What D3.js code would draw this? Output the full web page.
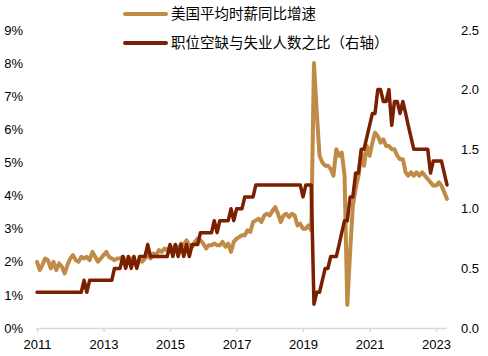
<!DOCTYPE html>
<html>
<head>
<meta charset="utf-8">
<script src="https://cdn.jsdelivr.net/npm/d3@7"></script>
<style>
  html, body { margin: 0; padding: 0; background: #ffffff; }
  svg { display: block; }
  text { font-family: "Liberation Sans", Arial, "Noto Sans CJK SC", sans-serif; fill: #000; }
</style>
</head>
<body>
<svg id="chart" width="488" height="356"></svg>
<script>
// ---- data (monthly, first month = Jan 2011 on the displayed axis) ----
const startMonth = "2011-01";
const wageGrowth = [
  2.0, 1.75, 1.9, 2.1, 2.05, 1.8, 2.0, 1.75, 1.95, 1.85,
  1.65, 1.9, 2.1, 2.2, 2.05, 2.0, 2.15, 2.1, 2.15, 2.05,
  2.3, 2.15, 2.0, 2.1, 2.2, 2.3, 2.15, 2.1, 2.05, 2.1,
  2.1, 2.15, 2.05, 2.0, 2.1, 1.95, 1.9, 2.05, 2.0, 2.1,
  2.2, 2.1, 2.25, 2.2, 2.35, 2.3, 2.4, 2.35, 2.45, 2.4,
  2.5, 2.35, 2.55, 2.5, 2.65, 2.5, 2.45, 2.6, 2.7, 2.65,
  2.55, 2.4, 2.5, 2.5, 2.55, 2.5, 2.5, 2.6, 2.45, 2.55,
  2.3, 2.6, 2.7, 2.75, 2.8, 2.8, 2.95, 2.9, 3.2, 3.25,
  3.3, 3.2, 3.4, 3.45, 3.4, 3.55, 3.65, 3.45, 3.2, 3.4,
  3.45, 3.35, 3.45, 3.4, 3.1, 3.15, 3.0, 3.0, 3.1, 2.95,
  8.0, 6.5, 5.2, 5.0, 4.9, 4.9, 4.8, 4.6, 5.4, 5.2,
  5.3, 4.6, 0.7, 2.3, 3.7, 4.2, 4.6, 5.3, 4.9, 5.5,
  5.2, 5.6, 5.9, 5.8, 5.6, 5.7, 5.5, 5.5, 5.4, 5.4,
  5.2, 5.1, 5.1, 4.7, 4.6, 4.7, 4.6, 4.7, 4.6, 4.7,
  4.6, 4.5, 4.4, 4.3, 4.3, 4.4, 4.3, 4.1, 3.9
];
const vacancyRatio = [
  0.3, 0.3, 0.3, 0.3, 0.3, 0.3, 0.3, 0.3, 0.3, 0.3,
  0.3, 0.3, 0.3, 0.3, 0.3, 0.3, 0.3, 0.4, 0.3, 0.4,
  0.4, 0.4, 0.4, 0.4, 0.4, 0.4, 0.4, 0.4, 0.5, 0.5,
  0.5, 0.6, 0.5, 0.6, 0.5, 0.6, 0.5, 0.6, 0.6, 0.6,
  0.7, 0.6, 0.6, 0.6, 0.6, 0.6, 0.6, 0.6, 0.7, 0.6,
  0.7, 0.6, 0.7, 0.6, 0.7, 0.6, 0.7, 0.7, 0.7, 0.8,
  0.8, 0.8, 0.8, 0.8, 0.9, 0.8, 0.9, 0.9, 0.9, 0.9,
  1.0, 0.9, 1.0, 1.0, 1.0, 1.1, 1.1, 1.1, 1.1, 1.2,
  1.2, 1.2, 1.2, 1.2, 1.2, 1.2, 1.2, 1.2, 1.2, 1.2,
  1.2, 1.2, 1.2, 1.2, 1.2, 1.2, 1.1, 1.2, 1.2, 1.2,
  0.2, 0.3, 0.3, 0.4, 0.5, 0.5, 0.6, 0.6, 0.6, 0.7,
  0.8, 0.9, 0.9, 1.1, 1.1, 1.3, 1.3, 1.5, 1.5, 1.6,
  1.7, 1.8, 1.8, 2.0, 2.0, 1.9, 1.9, 2.0, 1.7, 1.9,
  1.9, 1.8, 1.9, 1.8, 1.7, 1.6, 1.5, 1.5, 1.5, 1.5,
  1.5, 1.5, 1.3, 1.4, 1.4, 1.4, 1.4, 1.3, 1.2
];
const xTickYears = [2011, 2013, 2015, 2017, 2019, 2021, 2023];
const leftTicks = [0, 1, 2, 3, 4, 5, 6, 7, 8, 9];
const rightTicks = [0, 0.5, 1.0, 1.5, 2.0, 2.5];
const seriesNames = ["美国平均时薪同比增速", "职位空缺与失业人数之比（右轴）"];
const colors = ["#BF8B47", "#7A1F00"];

// ---- scales ----
const parseMonth = d3.timeParse("%Y-%m");
const t0 = parseMonth(startMonth);
const dates = wageGrowth.map((_, i) => d3.timeMonth.offset(t0, i));
const x = d3.scaleTime()
  .domain([t0, d3.timeMonth.offset(t0, wageGrowth.length - 1)])
  .range([37, 447]);
const yL = d3.scaleLinear().domain([0, 9]).range([328, 30]);
const yR = d3.scaleLinear().domain([0, 2.5]).range([328, 30]);

const svg = d3.select("#chart");

// ---- x axis ----
const xAxis = d3.axisBottom(x)
  .tickValues(xTickYears.map(y => new Date(y, 0, 1)))
  .tickFormat(d3.timeFormat("%Y"))
  .tickSize(4)
  .tickSizeOuter(0);
const gx = svg.append("g").attr("transform", "translate(0,328)").call(xAxis);
gx.select(".domain").attr("stroke", "#d9d9d9").attr("stroke-width", 1.5)
  .attr("d", "M36,0.5H447");
gx.selectAll(".tick line").attr("stroke", "#d9d9d9").attr("stroke-width", 1.5);
gx.selectAll(".tick text").attr("font-size", 13).attr("dy", "1.05em")
  .attr("font-family", "Liberation Sans, Arial, sans-serif").attr("fill", "#000");

// ---- left axis ----
const gl = svg.append("g").attr("transform", "translate(23,0)")
  .call(d3.axisLeft(yL).tickValues(leftTicks).tickFormat(d => d + "%").tickSize(0).tickPadding(0));
gl.select(".domain").remove();
gl.selectAll(".tick text").attr("font-size", 13)
  .attr("font-family", "Liberation Sans, Arial, sans-serif").attr("fill", "#000");

// ---- right axis ----
const gr = svg.append("g").attr("transform", "translate(461,0)")
  .call(d3.axisRight(yR).tickValues(rightTicks).tickFormat(d3.format(".1f")).tickSize(0).tickPadding(0));
gr.select(".domain").remove();
gr.selectAll(".tick text").attr("font-size", 13)
  .attr("font-family", "Liberation Sans, Arial, sans-serif").attr("fill", "#000");

// ---- lines ----
const lineL = d3.line().x((d, i) => x(dates[i])).y(d => yL(d));
const lineR = d3.line().x((d, i) => x(dates[i])).y(d => yR(d));

svg.append("path").datum(wageGrowth)
  .attr("d", lineL).attr("fill", "none")
  .attr("stroke", colors[0]).attr("stroke-width", 4)
  .attr("stroke-linejoin", "round").attr("stroke-linecap", "round");

svg.append("path").datum(vacancyRatio)
  .attr("d", lineR).attr("fill", "none")
  .attr("stroke", colors[1]).attr("stroke-width", 3.5)
  .attr("stroke-linejoin", "round").attr("stroke-linecap", "round");

// ---- legend ----
const legend = svg.append("g");
seriesNames.forEach((name, i) => {
  const ly = 14 + i * 29;
  legend.append("line").attr("x1", 125).attr("x2", 166).attr("y1", ly).attr("y2", ly)
    .attr("stroke", colors[i]).attr("stroke-width", 4).attr("stroke-linecap", "round");
  legend.append("text").attr("x", 171).attr("y", ly).attr("dy", "0.36em")
    .attr("font-size", 14.5)
    .attr("font-family", "Noto Sans CJK SC, sans-serif")
    .text(name);
});
</script>
</body>
</html>
